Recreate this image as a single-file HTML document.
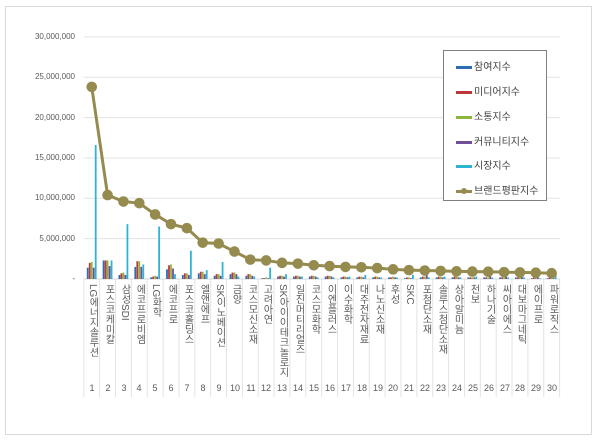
<!DOCTYPE html>
<html><head><meta charset="utf-8"><style>
body{margin:0;background:#fff;width:600px;height:440px;overflow:hidden;position:relative;font-family:"Liberation Sans","Noto Sans CJK KR",sans-serif}
.frame{position:absolute;left:5px;top:6px;width:587px;height:429px;border:1px solid #d9d9d9;box-sizing:border-box}
.yl{position:absolute;right:525px;font-size:8px;color:#595959;text-align:right;white-space:nowrap}
.cl{position:absolute;top:284px;width:16px;writing-mode:vertical-rl;font-size:10px;color:#595959;line-height:16px;white-space:nowrap}
.num{position:absolute;top:383px;width:16px;text-align:center;font-size:9px;color:#595959}
.leg{position:absolute;left:443px;top:50px;width:104px;height:151px;border:1px solid #7f7f7f;box-sizing:border-box;background:#fff}
.li{position:absolute;left:12px;font-size:10px;color:#404040;white-space:nowrap}
.sw{display:inline-block;width:16px;height:3px;margin-right:2px;vertical-align:middle}
</style></head><body>
<div class="frame"></div>
<svg id="s" width="600" height="440" style="position:absolute;left:0;top:0"></svg>
<div class="yl" style="top:32px">30,000,000</div>
<div class="yl" style="top:72px">25,000,000</div>
<div class="yl" style="top:113px">20,000,000</div>
<div class="yl" style="top:153px">15,000,000</div>
<div class="yl" style="top:193px">10,000,000</div>
<div class="yl" style="top:234px">5,000,000</div>
<div class="yl" style="top:274px">-</div>
<div id="labels">
<div class="cl" style="left:84px">LG에너지솔루션</div>
<div class="cl" style="left:100px">포스코케미칼</div>
<div class="cl" style="left:116px">삼성SDI</div>
<div class="cl" style="left:131px">에코프로비엠</div>
<div class="cl" style="left:147px">LG화학</div>
<div class="cl" style="left:163px">에코프로</div>
<div class="cl" style="left:179px">포스코홀딩스</div>
<div class="cl" style="left:195px">엘앤에프</div>
<div class="cl" style="left:211px">SK이노베이션</div>
<div class="cl" style="left:227px">금양</div>
<div class="cl" style="left:243px">코스모신소재</div>
<div class="cl" style="left:258px">고려아연</div>
<div class="cl" style="left:274px">SK아이이테크놀로지</div>
<div class="cl" style="left:290px">일진머티리얼즈</div>
<div class="cl" style="left:306px">코스모화학</div>
<div class="cl" style="left:322px">이엔플러스</div>
<div class="cl" style="left:338px">이수화학</div>
<div class="cl" style="left:354px">대주전자재료</div>
<div class="cl" style="left:370px">나노신소재</div>
<div class="cl" style="left:385px">후성</div>
<div class="cl" style="left:401px">SKC</div>
<div class="cl" style="left:417px">포첨단소재</div>
<div class="cl" style="left:433px">솔루스첨단소재</div>
<div class="cl" style="left:449px">상아알미늄</div>
<div class="cl" style="left:465px">천보</div>
<div class="cl" style="left:481px">하나기술</div>
<div class="cl" style="left:497px">씨아이에스</div>
<div class="cl" style="left:512px">대보마그네틱</div>
<div class="cl" style="left:528px">에이프로</div>
<div class="cl" style="left:544px">파워로직스</div>
</div>
<div>
<div class="num" style="left:84px">1</div><div class="num" style="left:100px">2</div><div class="num" style="left:116px">3</div><div class="num" style="left:131px">4</div><div class="num" style="left:147px">5</div><div class="num" style="left:163px">6</div><div class="num" style="left:179px">7</div><div class="num" style="left:195px">8</div><div class="num" style="left:211px">9</div><div class="num" style="left:227px">10</div><div class="num" style="left:243px">11</div><div class="num" style="left:258px">12</div><div class="num" style="left:274px">13</div><div class="num" style="left:290px">14</div><div class="num" style="left:306px">15</div><div class="num" style="left:322px">16</div><div class="num" style="left:338px">17</div><div class="num" style="left:354px">18</div><div class="num" style="left:370px">19</div><div class="num" style="left:385px">20</div><div class="num" style="left:401px">21</div><div class="num" style="left:417px">22</div><div class="num" style="left:433px">23</div><div class="num" style="left:449px">24</div><div class="num" style="left:465px">25</div><div class="num" style="left:481px">26</div><div class="num" style="left:497px">27</div><div class="num" style="left:512px">28</div><div class="num" style="left:528px">29</div><div class="num" style="left:544px">30</div>
</div>
<div class="leg">
<div class="li" style="top:7px"><span class="sw" style="background:#2e6db4"></span>참여지수</div>
<div class="li" style="top:32px"><span class="sw" style="background:#c0373a"></span>미디어지수</div>
<div class="li" style="top:57px"><span class="sw" style="background:#8db53c"></span>소통지수</div>
<div class="li" style="top:82px"><span class="sw" style="background:#6f4f9a"></span>커뮤니티지수</div>
<div class="li" style="top:106px"><span class="sw" style="background:#2fb3d2"></span>시장지수</div>
<div class="li" style="top:131px"><span class="sw" style="background:#958b4f;position:relative"><span style="position:absolute;left:5px;top:-2px;width:6px;height:6px;border-radius:50%;background:#958b4f"></span></span>브랜드평판지수</div>
</div>
<script>
var s=document.getElementById('s'),NS='http://www.w3.org/2000/svg';
function el(t,a){var e=document.createElementNS(NS,t);for(var k in a)e.setAttribute(k,a[k]);s.appendChild(e);return e;}
var x0=83.8,w=15.86,y0=279,k=8.07;
for(var i=0;i<7;i++){var y=y0-i*5*k;el('line',{x1:x0,x2:560,y1:y,y2:y,stroke:'#e3e3e3','stroke-width':1});}
for(var i=0;i<=30;i++){var x=x0+i*w;el('line',{x1:x,x2:x,y1:279,y2:397,stroke:'#e3e3e3','stroke-width':1});}
el('line',{x1:x0,x2:560,y1:279,y2:279,stroke:'#d9d9d9'});
var B=[[1.4,2.0,2.1,1.4,16.6],[2.3,2.3,2.3,1.6,2.3],[.5,.7,.8,.5,6.8],[1.5,2.2,2.2,1.5,1.8],[.2,.3,.4,.3,6.5],[1.2,1.7,1.8,1.3,.6],[.5,.7,.7,.5,3.5],[.7,.9,.9,.6,1.1],[.4,.6,.6,.4,2.1],[.6,.8,.8,.6,.3],[.4,.6,.6,.4,.3],[.1,.1,.2,.1,1.4],[.3,.4,.4,.3,.6],[.3,.4,.4,.3,.3],[.3,.4,.4,.3,.2],[.3,.4,.4,.3,.2],[.2,.3,.3,.2,.3],[.2,.3,.3,.2,.5],[.2,.3,.3,.2,.2],[.2,.2,.3,.2,.2],[.1,.2,.2,.1,.5],[.2,.3,.3,.9,.2],[.2,.3,.3,.2,.3],[.2,.3,.3,.2,.2],[.2,.2,.2,.2,.3],[.2,.2,.2,.6,.2],[.2,.2,.2,.5,.2],[.2,.2,.2,.5,.2],[.1,.2,.2,.5,.1],[.1,.2,.2,.1,.6]];
var C=['#2e6db4','#c0373a','#8db53c','#6f4f9a','#2fb3d2'];
B.forEach(function(b,i){b.forEach(function(v,j){var h=v*k;el('rect',{x:x0+i*w+3+j*2,y:y0-h,width:1.8,height:h,fill:C[j]});});});
var L=[23.8,10.4,9.6,9.4,8.0,6.8,6.3,4.5,4.4,3.4,2.4,2.3,2.0,1.9,1.7,1.6,1.5,1.45,1.35,1.2,1.1,1.05,1.0,0.95,0.92,0.9,0.85,0.82,0.78,0.72];
var p=L.map(function(v,i){return (x0+(i+.5)*w)+','+(y0-v*k);}).join(' ');
el('polyline',{points:p,fill:'none',stroke:'#958b4f','stroke-width':3});
L.forEach(function(v,i){el('circle',{cx:x0+(i+.5)*w,cy:y0-v*k,r:5.3,fill:'#958b4f'});});
</script>
</body></html>
